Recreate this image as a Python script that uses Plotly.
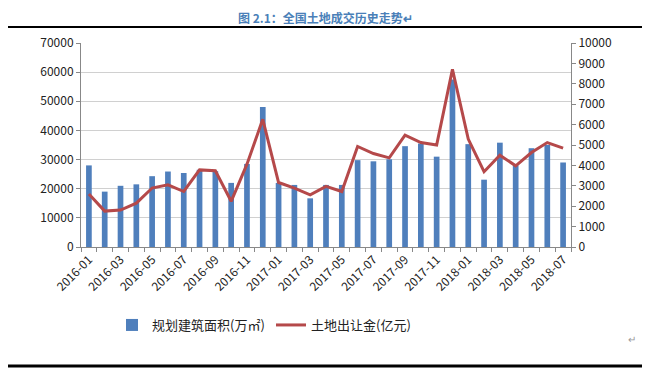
import plotly.graph_objects as go

months = ["2016-01","2016-02","2016-03","2016-04","2016-05","2016-06","2016-07","2016-08",
          "2016-09","2016-10","2016-11","2016-12","2017-01","2017-02","2017-03","2017-04",
          "2017-05","2017-06","2017-07","2017-08","2017-09","2017-10","2017-11","2017-12",
          "2018-01","2018-02","2018-03","2018-04","2018-05","2018-06","2018-07"]
area = [28000, 19000, 21000, 21500, 24300, 25900, 25400, 26500,
        26000, 22000, 28500, 48000, 22000, 21300, 16700, 21300,
        21300, 29800, 29400, 30100, 34600, 35500, 31000, 57500,
        35300, 23100, 35800, 28000, 33900, 35000, 29000]
revenue = [2600, 1760, 1810, 2150, 2890, 3050, 2720, 3780,
           3740, 2240, 4060, 6260, 3160, 2890, 2560, 2970,
           2720, 4930, 4580, 4370, 5480, 5120, 5000, 8710,
           5290, 3690, 4500, 3980, 4630, 5120, 4850]
tick_text = [m if i % 2 == 0 else "" for i, m in enumerate(months)]

font_cjk = "Noto Sans CJK SC, Liberation Sans, sans-serif"

# page has an 8px body margin; figure occupies page px 8..650 x 8..371
W, H = 642, 363
L, T, R, B = 73, 35, 79, 124
PW, PH = W - L - R, H - T - B


def px_x(page_x):
    return (page_x - 8 - L) / PW


def px_y(page_y):
    return (H - B - (page_y - 8)) / PH


fig = go.Figure()
fig.add_trace(go.Bar(x=months, y=area, name="规划建筑面积(万㎡)",
                     marker=dict(color="#4f7fbc", line=dict(width=0)), yaxis="y"))
fig.add_trace(go.Scatter(x=months, y=revenue, name="土地出让金(亿元)", mode="lines",
                         line=dict(color="#b5494a", width=3), yaxis="y2"))

fig.update_layout(
    width=W, height=H,
    margin=dict(l=L, r=R, t=T, b=B),
    paper_bgcolor="white", plot_bgcolor="white",
    font=dict(family=font_cjk, size=12, color="#222"),
    bargap=0.64,
    showlegend=True,
    legend=dict(orientation="h", x=px_x(112), xanchor="left", y=px_y(325), yanchor="middle",
                font=dict(size=13, color="#222"), entrywidth=114, tracegroupgap=0),
    xaxis=dict(type="category", tickmode="array", tickvals=months, ticktext=tick_text,
               tickangle=-45, tickson="boundaries", ticks="outside", ticklen=4,
               tickcolor="#888", showline=True, linecolor="#888", linewidth=1,
               showgrid=False, tickfont=dict(size=12, color="#222"), automargin=False),
    yaxis=dict(range=[0, 70000], dtick=10000, showgrid=True, gridcolor="#d0d0d0",
               showline=True, linecolor="#888", ticks="outside", ticklen=4, tickcolor="#888",
               tickformat="d", tickfont=dict(size=12, color="#222"), zeroline=False,
               automargin=False),
    yaxis2=dict(range=[0, 10000], dtick=1000, overlaying="y", side="right", showgrid=False,
                showline=True, linecolor="#888", ticks="outside", ticklen=4, tickcolor="#888",
                tickformat="d", tickfont=dict(size=12, color="#222"), zeroline=False,
                automargin=False),
    shapes=[
        dict(type="line", xref="paper", yref="paper", x0=px_x(8), x1=px_x(650),
             y0=px_y(27), y1=px_y(27), line=dict(color="black", width=2)),
        dict(type="line", xref="paper", yref="paper", x0=px_x(8), x1=px_x(650),
             y0=px_y(366), y1=px_y(366), line=dict(color="black", width=3)),
    ],
    annotations=[
        dict(text="<b>图 2.1：全国土地成交历史走势↵</b>", xref="paper", yref="paper",
             x=px_x(325), y=px_y(17), xanchor="center", yanchor="middle", showarrow=False,
             font=dict(size=12, color="#4a7fb8", family=font_cjk)),
        dict(text="↵", xref="paper", yref="paper", x=px_x(638), y=px_y(348),
             showarrow=False, font=dict(size=10, color="#999")),
    ],
)

fig.write_html("out.html")
